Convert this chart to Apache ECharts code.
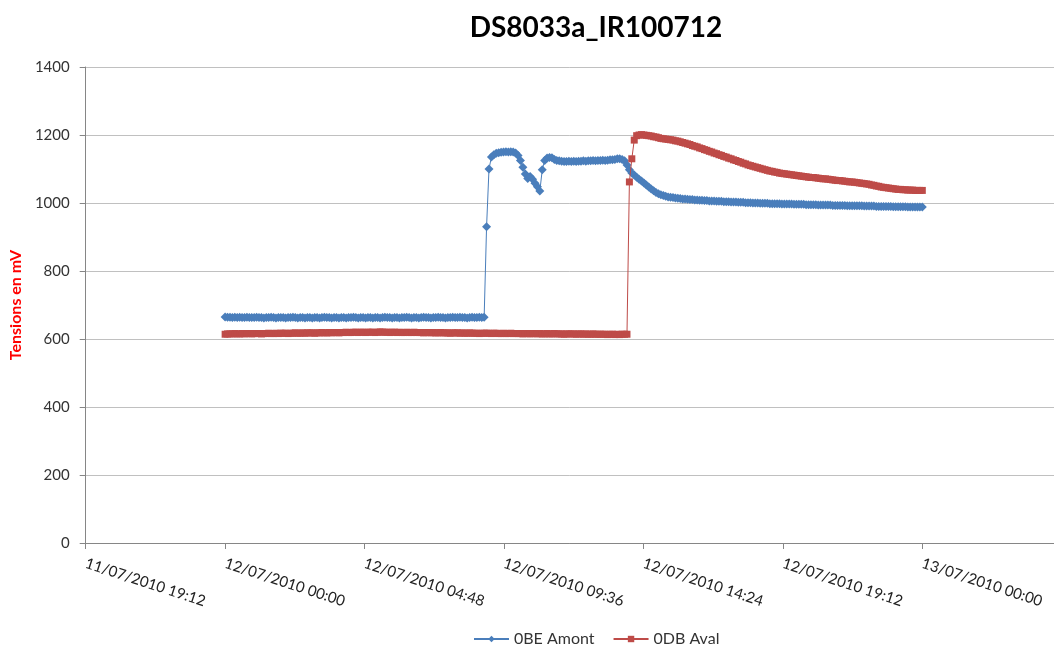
<!DOCTYPE html>
<html>
<head>
<meta charset="utf-8">
<script src="https://cdn.jsdelivr.net/npm/echarts@6/dist/echarts.min.js"></script>
<style>html,body{margin:0;padding:0;background:#fff}#c{width:1054px;height:646px}</style>
</head>
<body>
<div id="c"></div>
<script>
// Time axis: minutes after 11/07/2010 19:12
const axisStart = Date.UTC(2010, 6, 11, 19, 12);
const xMin = 0, xMax = 2000, xInterval = 288;
const sampleStart = 288;   // 12/07/2010 00:00
const sampleStep = 5;      // minutes between samples

const titleText = 'DS8033a_IR100712';
const yName = 'Tensions en mV';
const seriesNames = ['0BE Amont', '0DB Aval'];

const amont = [
665,664,664,663,664,663,664,663,663,664,663,663,
663,664,663,663,662,663,663,664,663,662,663,663,
663,662,663,663,664,663,662,663,663,662,663,663,
662,663,663,662,663,664,663,663,662,663,663,662,
663,663,662,663,663,664,663,662,663,663,662,663,
663,662,663,663,662,663,664,663,663,662,663,663,
662,663,663,664,663,662,663,663,662,663,664,663,
663,662,663,663,664,663,663,662,663,663,664,663,
663,664,663,663,662,663,664,663,663,664,663,664,
930,1100,1135,1142,1146,1148,1149,1150,1151,1150,1151,1150,
1147,1140,1125,1105,1085,1072,1078,1070,1058,1048,1035,1098,
1125,1132,1134,1133,1128,1125,1124,1123,1122,1122,1123,1122,
1123,1122,1123,1123,1124,1123,1124,1124,1125,1124,1125,1125,
1126,1125,1126,1127,1127,1128,1130,1130,1128,1124,1112,1098,
1088,1082,1076,1070,1065,1059,1053,1047,1041,1036,1031,1027,
1024,1022,1020,1018,1017,1016,1015,1014,1013,1012,1012,1011,
1010,1010,1009,1009,1008,1008,1007,1007,1006,1006,1006,1005,
1005,1005,1004,1004,1004,1003,1003,1003,1002,1002,1002,1001,
1001,1001,1000,1000,1000,999,999,999,999,998,998,998,
998,998,997,997,997,997,997,996,996,996,996,996,
995,995,995,995,995,994,994,994,994,994,994,993,
993,993,993,993,993,992,992,992,992,992,992,992,
991,991,991,991,991,990,990,990,990,990,990,990,
989,989,989,989,989,989,988,988,988,988,988,988,
988
];

const aval = [
614,615,615,615,616,615,615,616,615,616,616,615,
616,616,616,615,616,616,617,616,616,617,616,617,
617,617,616,617,617,618,617,617,618,617,618,618,
618,617,618,618,619,618,618,619,618,619,619,618,
619,619,620,619,619,620,620,619,620,620,619,620,
620,620,619,620,621,620,620,620,619,620,620,619,
620,619,619,620,619,619,620,619,619,619,618,619,
619,618,619,618,618,619,618,618,618,617,618,618,
618,617,618,617,617,618,617,617,617,616,617,617,
617,617,616,617,617,616,616,617,616,616,617,616,
616,616,616,615,616,616,615,616,616,615,616,615,
615,616,615,615,616,615,615,615,614,615,615,615,
615,614,615,615,614,615,614,614,615,614,614,614,
614,614,613,614,614,613,614,613,614,614,614,1062,
1130,1185,1198,1200,1201,1200,1199,1198,1197,1195,1194,1192,
1190,1189,1188,1187,1186,1185,1183,1182,1180,1178,1176,1174,
1172,1169,1167,1165,1162,1160,1157,1155,1152,1150,1147,1145,
1142,1140,1137,1135,1132,1130,1127,1125,1122,1120,1117,1115,
1112,1110,1108,1106,1104,1102,1100,1098,1096,1094,1093,1091,
1090,1088,1087,1086,1085,1084,1083,1082,1081,1080,1079,1078,
1077,1076,1075,1075,1074,1073,1072,1071,1071,1070,1069,1068,
1067,1066,1066,1065,1064,1063,1062,1062,1061,1060,1059,1058,
1057,1056,1055,1053,1052,1050,1049,1047,1046,1045,1044,1043,
1042,1041,1040,1040,1039,1039,1038,1038,1038,1037,1037,1037,
1037
];

function pair(vals) {
  return vals.map((v, i) => [sampleStart + i * sampleStep, v]);
}
function pad(n) { return (n < 10 ? '0' : '') + n; }
function fmt(v) {
  const d = new Date(axisStart + v * 60000);
  return pad(d.getUTCDate()) + '/' + pad(d.getUTCMonth() + 1) + '/' + d.getUTCFullYear() +
    ' ' + pad(d.getUTCHours()) + ':' + pad(d.getUTCMinutes());
}

const FONT = 'Lato, "Open Sans", sans-serif';
const chart = echarts.init(document.getElementById('c'), null, { renderer: 'canvas' });
chart.setOption({
  animation: false,
  backgroundColor: '#ffffff',
  textStyle: { fontFamily: FONT },
  title: {
    text: titleText,
    left: 591, top: 9, textAlign: 'center',
    textStyle: { fontFamily: FONT, fontSize: 28, fontWeight: 'bold', color: '#000' }
  },
  legend: {
    data: seriesNames,
    left: 468, top: 626,
    itemWidth: 35, itemHeight: 8, itemGap: 18,
    textStyle: { fontFamily: FONT, fontSize: 16, color: '#333' }
  },
  grid: { left: 85, top: 67, right: 0, bottom: 103, containLabel: false },
  xAxis: {
    type: 'value', min: xMin, max: xMax, interval: xInterval,
    axisLine: { show: true, lineStyle: { color: '#868686', width: 1 } },
    axisTick: { show: true, length: 6, lineStyle: { color: '#868686' } },
    splitLine: { show: false },
    axisLabel: {
      rotate: -18, margin: 20, fontSize: 15, color: '#222', fontFamily: FONT,
      formatter: fmt, showMaxLabel: false
    }
  },
  yAxis: {
    type: 'value', min: 0, max: 1400, interval: 200,
    name: yName, nameLocation: 'middle', nameGap: 57, nameRotate: 90,
    nameTextStyle: { color: '#ff0000', fontWeight: 'bold', fontSize: 16, fontFamily: FONT },
    axisLine: { show: true, lineStyle: { color: '#868686', width: 1 } },
    axisTick: { show: true, length: 6, lineStyle: { color: '#868686' } },
    splitLine: { show: true, lineStyle: { color: '#c0c0c0', width: 1 } },
    axisLabel: { fontSize: 15, color: '#333', margin: 16, fontFamily: FONT,
      formatter: v => String(v) }
  },
  series: [
    {
      name: seriesNames[0], type: 'line', data: pair(amont),
      symbol: 'diamond', symbolSize: 9, showAllSymbol: true,
      lineStyle: { color: '#4a7ebb', width: 1 },
      itemStyle: { color: '#4a7ebb' }, z: 2
    },
    {
      name: seriesNames[1], type: 'line', data: pair(aval),
      symbol: 'rect', symbolSize: 7, showAllSymbol: true,
      lineStyle: { color: '#be4b48', width: 1 },
      itemStyle: { color: '#be4b48' }, z: 3
    }
  ]
});
</script>
</body>
</html>
